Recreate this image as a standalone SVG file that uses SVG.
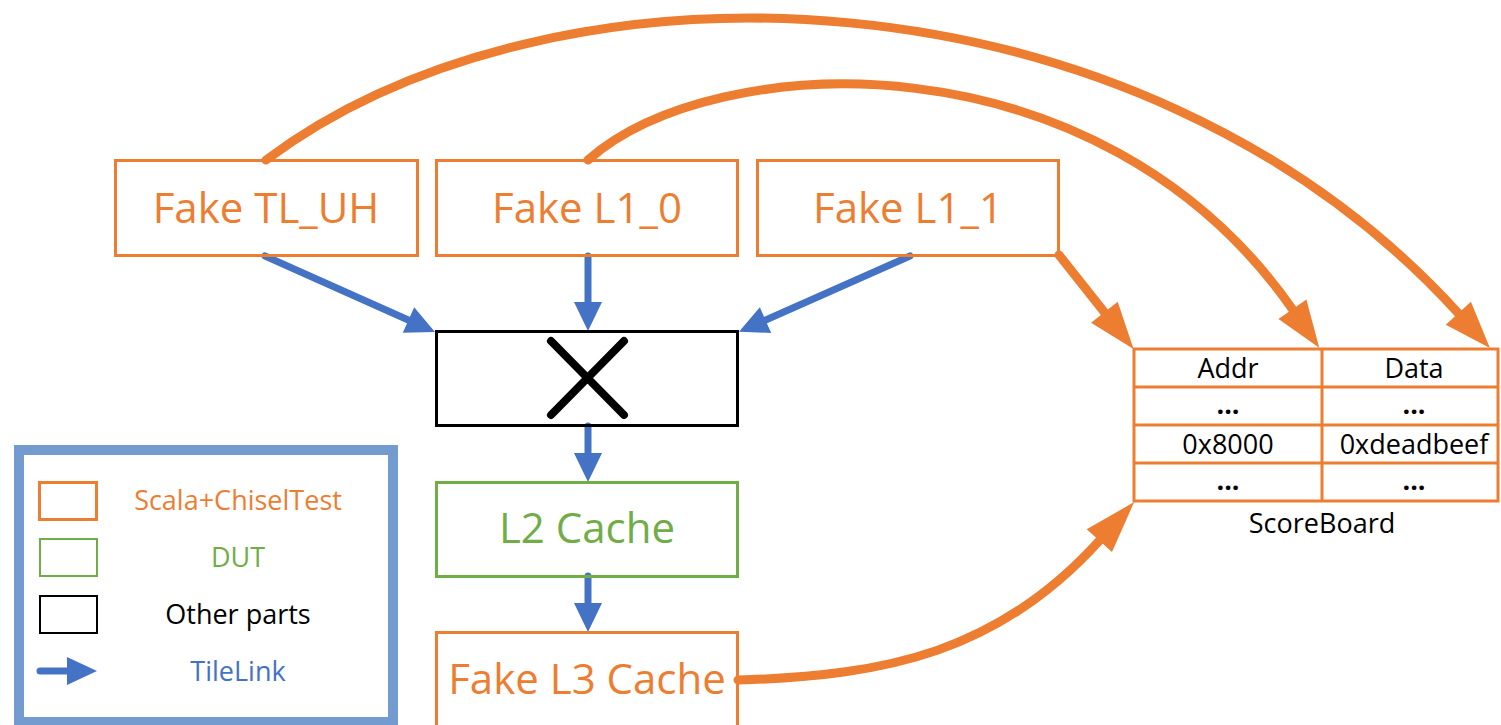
<svg xmlns="http://www.w3.org/2000/svg" width="1501" height="725" viewBox="0 0 1501 725">
<style>
text{font-family:"Open Sans","Noto Sans","Liberation Sans",sans-serif;text-anchor:middle}
.ob{fill:none;stroke:#ED7D31;stroke-width:3}
.big{font-size:42px}
.or{fill:#ED7D31}
.gr{fill:#70AD47}
.bl{fill:#4472C4}
.bk{fill:#000}
.sb{font-size:27px;fill:#000}
.lg{font-size:27px}
.oa{fill:none;stroke:#ED7D31;stroke-width:9;stroke-linecap:round;marker-end:url(#oh)}
.oa2{fill:none;stroke:#ED7D31;stroke-width:9;stroke-linecap:round;marker-end:url(#oh2)}
.ba{fill:none;stroke:#4472C4;stroke-width:7;stroke-linecap:round;marker-end:url(#bh)}
</style>
<defs>
<marker id="oh" markerWidth="46" markerHeight="34" refX="0" refY="17" orient="auto" markerUnits="userSpaceOnUse" overflow="visible">
<path d="M-1,0 L46,17 L-1,34 z" fill="#ED7D31"/>
</marker>
<marker id="oh2" markerWidth="51" markerHeight="34" refX="0" refY="17" orient="auto" markerUnits="userSpaceOnUse" overflow="visible">
<path d="M-1,0 L51,17 L-1,34 z" fill="#ED7D31"/>
</marker>
<marker id="bh" markerWidth="28" markerHeight="28" refX="0" refY="14" orient="auto" markerUnits="userSpaceOnUse" overflow="visible">
<path d="M-1,0 L28,14 L-1,28 z" fill="#4472C4"/>
</marker>
</defs>
<rect width="1501" height="725" fill="#fff"/>

<g id="connectors">
<path class="oa" d="M266,160 C554,-56 1137,-41 1459,314"/>
<path class="oa" d="M588,160 C715,48 1099,31 1293,310"/>
<path class="oa" d="M1059,255 L1105,313"/>
<path class="oa2" d="M738,680 C888,676 1000,651 1100,540"/>
<path class="ba" d="M265,256 L409.4,320.5"/>
<path class="ba" d="M588,256 L588,303"/>
<path class="ba" d="M910,256 L764.6,320.5"/>
<path class="ba" d="M588,426 L588,454"/>
<path class="ba" d="M588,576 L588,604"/>
</g>

<g id="fake-tl-uh">
<rect class="ob" x="115.5" y="160.5" width="302" height="95"/>
<text class="big or" x="266" y="223">Fake TL_UH</text>
</g>
<g id="fake-l1-0">
<rect class="ob" x="436.5" y="160.5" width="301" height="95"/>
<text class="big or" x="587" y="223">Fake L1_0</text>
</g>
<g id="fake-l1-1">
<rect class="ob" x="757.5" y="160.5" width="301" height="95"/>
<text class="big or" x="908" y="223">Fake L1_1</text>
</g>
<g id="crossbar">
<rect x="436.5" y="331.5" width="301" height="94" fill="none" stroke="#000" stroke-width="3"/>
<path d="M551,341 L624,415 M624,341 L551,415" stroke="#000" stroke-width="8" stroke-linecap="round"/>
</g>
<g id="l2-cache">
<rect x="436.5" y="482.5" width="301" height="94" fill="none" stroke="#70AD47" stroke-width="3"/>
<text class="big gr" x="587" y="543">L2 Cache</text>
</g>
<g id="fake-l3-cache">
<rect class="ob" x="436.5" y="632.5" width="301" height="110"/>
<text class="big or" x="587" y="694">Fake L3 Cache</text>
</g>

<g id="scoreboard">
<rect x="1134" y="349" width="364" height="152" fill="none" stroke="#ED7D31" stroke-width="3"/>
<path d="M1134,387 H1498 M1134,425 H1498 M1134,463 H1498 M1322,349 V501" stroke="#ED7D31" stroke-width="3"/>
<text class="sb" x="1228" y="378">Addr</text>
<text class="sb" x="1414" y="378">Data</text>
<text class="sb" x="1228" y="414" font-weight="bold">...</text>
<text class="sb" x="1414" y="414" font-weight="bold">...</text>
<text class="sb" x="1228" y="454">0x8000</text>
<text class="sb" x="1414" y="454">0xdeadbeef</text>
<text class="sb" x="1228" y="490" font-weight="bold">...</text>
<text class="sb" x="1414" y="490" font-weight="bold">...</text>
<text class="sb" x="1322" y="533">ScoreBoard</text>
</g>

<g id="legend">
<rect x="19" y="450" width="374" height="272" fill="none" stroke="#739BD0" stroke-width="10"/>
<rect x="39.5" y="482.5" width="57" height="37" fill="none" stroke="#ED7D31" stroke-width="3"/>
<text class="lg or" x="238" y="510">Scala+ChiselTest</text>
<rect x="40" y="539" width="57" height="37" fill="none" stroke="#70AD47" stroke-width="2"/>
<text class="lg gr" x="238" y="567">DUT</text>
<rect x="40" y="596" width="57" height="37" fill="none" stroke="#000" stroke-width="2"/>
<text class="lg bk" x="238" y="624">Other parts</text>
<path d="M40,671 H67" stroke="#4472C4" stroke-width="7" stroke-linecap="round"/>
<path d="M67,657 L97,671 L67,685 z" fill="#4472C4"/>
<text class="lg bl" x="238" y="681">TileLink</text>
</g>
</svg>
